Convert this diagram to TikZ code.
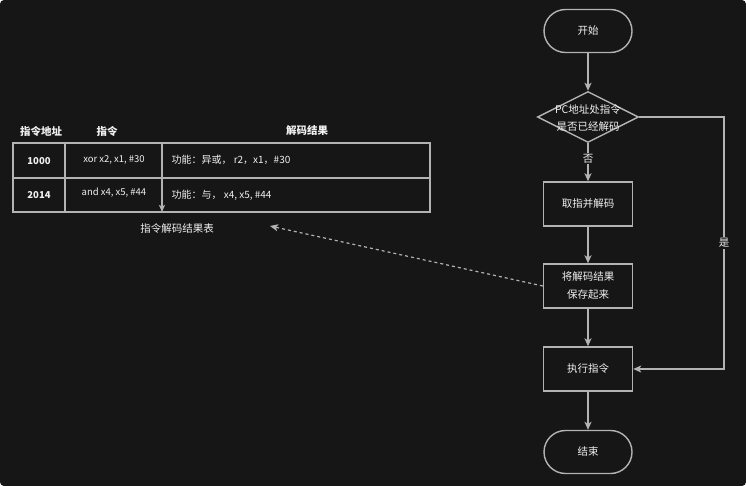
\documentclass[tikz,border=0pt]{standalone}
\usepackage{fontspec}
\setmainfont{Noto Sans CJK SC}
\usetikzlibrary{shapes.geometric,arrows.meta}
\definecolor{bgc}{HTML}{161616}
\definecolor{lnc}{HTML}{B3B3B3}
\definecolor{txc}{HTML}{F0F0F0}
\tikzset{
  every node/.style={text=txc,font=\fontsize{10.5}{14}\selectfont},
  ln/.style={draw=lnc,line width=1.4pt},
  arr/.style={ln,-{Stealth[length=8pt,width=7pt,inset=2pt]}},
  term/.style={ln,rectangle,rounded corners=21.5pt,minimum width=88pt,minimum height=43pt,inner sep=0pt},
  proc/.style={ln,rectangle,minimum width=89pt,minimum height=44pt,inner sep=0pt,align=center},
  cell/.style={font=\fontsize{9.5}{11}\selectfont},
  lbl/.style={fill=bgc,inner sep=1pt},
}
\begin{document}
\begin{tikzpicture}[x=1pt,y=-1pt]
\fill[white] (0,0) rectangle (746,486);
\fill[bgc,rounded corners=4pt] (0,0) rectangle (746,486);
\useasboundingbox (0,0) rectangle (746,486);
% flowchart
\node[term] (start) at (588,31) {开始};
\node[ln,diamond,minimum width=101pt,minimum height=51pt,inner sep=0pt] (dec) at (588,117) {};
\node[align=center,font=\fontsize{10.5}{17}\selectfont] (dectext) at (588,118) {PC地址处指令\\是否已经解码};
\node[proc] (fetch) at (588,204) {取指并解码};
\node[proc,font=\fontsize{10.5}{18}\selectfont] (save) at (588,286) {将解码结果\\保存起来};
\node[proc] (exec) at (588,369) {执行指令};
\node[term] (end) at (588,452) {结束};
\coordinate (rc) at (724,117);
\draw[arr] (start) -- (dec);
\draw[arr] (dec) -- node[lbl,pos=0.4] {否} (fetch);
\draw[arr] (fetch) -- (save);
\draw[arr] (save) -- (exec);
\draw[arr] (exec) -- (end);
\draw[arr] (dec.east) -- (rc) |- node[lbl,pos=0.25] {是} (exec.east);
% table
\node (h1) at (41,131) {\bfseries 指令地址};
\node (h2) at (107,131) {\bfseries 指令};
\node (h3) at (307,131) {\bfseries 解码结果};
\draw[ln] (13,143) rectangle (430,212);
\draw[ln] (13,178) -- (430,178);
\draw[ln] (65,143) -- (65,212);
\draw[ln] (162,143) -- (162,178);
\draw[ln,-{Stealth[length=7pt,width=6pt,inset=1.5pt]}] (162,178) -- (162,212);
\node[cell] (a1) at (39,161) {\bfseries 1000};
\node[cell] (b1) at (114,160) {xor x2, x1, \#30};
\node[cell,font=\fontsize{10}{12}\selectfont,anchor=west] (c1) at (168,160) {功能：异或， r2，x1，\#30};
\node[cell] (a2) at (39,195) {\bfseries 2014};
\node[cell] (b2) at (114,193) {and x4, x5, \#44};
\node[cell,font=\fontsize{10}{12}\selectfont,anchor=west] (c2) at (168,195) {功能：与， x4, x5, \#44};
\node (cap) at (177,229) {指令解码结果表};
\coordinate (capend) at (270,226);
\draw[ln,dash pattern=on 3pt off 3pt,line width=1.2pt,-{Stealth[length=8pt,width=7pt,inset=2pt]}] (save.west) -- (capend);
\end{tikzpicture}
\end{document}
